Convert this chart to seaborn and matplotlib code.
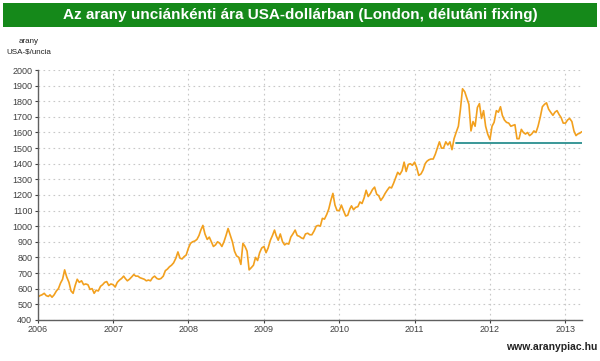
import matplotlib
matplotlib.use("Agg")
import matplotlib.pyplot as plt
import matplotlib.dates as mdates
from matplotlib.patches import Rectangle
import pandas as pd
import seaborn as sns

# approx. London PM fix (USD / troy ounce),
# three readings per month (around the 1st, 11th and 21st)
months = pd.period_range("2006-01", "2013-03", freq="M")
days = [1, 11, 21]
prices = [
    # 2006
    545, 555, 560,  570, 555, 550,  560, 545, 560,  585, 600, 635,
    660, 720, 675,  640, 585, 570,  620, 660, 640,  650, 625, 630,
    625, 595, 600,  570, 590, 585,  615, 625, 640,  645, 620, 630,
    # 2007
    625, 610, 640,  655, 665, 680,  665, 650, 660,  675, 690, 680,
    680, 670, 665,  660, 650, 655,  650, 670, 680,  665, 660, 665,
    680, 715, 725,  740, 750, 765,  795, 835, 795,  790, 805, 815,
    # 2008
    860, 890, 900,  905, 915, 940,  975, 1005, 950,  915, 930, 900,
    870, 880, 900,  890, 870, 900,  940, 985, 945,  900, 840, 810,
    800, 755, 890,  870, 840, 720,  735, 750, 800,  780, 830, 860,
    # 2009
    870, 830, 860,  910, 940, 975,  940, 910, 950,  900, 880, 890,
    885, 930, 950,  975, 940, 935,  925, 920, 950,  955, 945, 945,
    970, 1000, 1005,  1000, 1050, 1045,  1075, 1110, 1165,  1210, 1135, 1100,
    # 2010
    1100, 1135, 1100,  1065, 1070, 1110,  1130, 1105, 1120,  1125, 1155, 1145,
    1180, 1230, 1190,  1210, 1235, 1250,  1205, 1195, 1165,  1185, 1210, 1230,
    1250, 1245, 1275,  1310, 1345, 1330,  1355, 1410, 1350,  1395, 1400, 1390,
    # 2011
    1410, 1375, 1325,  1335, 1360, 1400,  1415, 1425, 1430,  1430, 1460, 1500,
    1540, 1500, 1500,  1540, 1520, 1540,  1490, 1560, 1600,  1640, 1750, 1880,
    1860, 1820, 1780,  1610, 1670, 1640,  1760, 1785, 1690,  1740, 1640, 1590,
    # 2012
    1555, 1640, 1665,  1740, 1730, 1765,  1710, 1680, 1665,  1660, 1640, 1645,
    1650, 1560, 1560,  1620, 1600, 1590,  1600, 1580, 1590,  1610, 1600, 1640,
    1700, 1765, 1780,  1790, 1750, 1730,  1710, 1730, 1740,  1715, 1695, 1660,
    # 2013
    1660, 1680, 1690,  1670, 1610, 1580,  1590, 1595, 1605,
]

support_start, support_end, support_level = "2011-07-20", "2013-03-22", 1535

dates = [m.to_timestamp() + pd.Timedelta(days=d - 1) for m in months for d in days]
df = pd.DataFrame({"date": dates, "price": prices})

sns.set_theme(style="white")
plt.rcParams["font.family"] = ["Liberation Sans", "DejaVu Sans"]

fig = plt.figure(figsize=(6.0, 3.61), dpi=100)
fig.patch.set_facecolor("white")
ax = fig.add_axes([0.063, 0.114, 0.907, 0.692])

sns.lineplot(data=df, x="date", y="price", ax=ax, color="#f2a01e", linewidth=1.2)
ax.plot(pd.to_datetime([support_start, support_end]), [support_level, support_level],
        color="#2a8f8f", linewidth=1.3)

ax.set_ylim(400, 2000)
ax.set_xlim(pd.Timestamp("2006-01-01"), pd.Timestamp("2013-03-22"))
ax.set_yticks(range(400, 2001, 100))
ax.xaxis.set_major_locator(mdates.YearLocator())
ax.xaxis.set_major_formatter(mdates.DateFormatter("%Y"))
ax.set_xlabel("")
ax.set_ylabel("")

ax.grid(True, color="#c8c8c8", linestyle=(0, (1.5, 3)), linewidth=0.8)
for side in ["top", "right"]:
    ax.spines[side].set_visible(False)
for side in ["left", "bottom"]:
    ax.spines[side].set_color("#606060")
    ax.spines[side].set_linewidth(1.0)
ax.tick_params(axis="both", labelsize=6.5, colors="#404040", length=2, width=0.8,
               direction="out", pad=2, left=True, bottom=True)

# title banner
fig.patches.append(Rectangle((0.005, 0.925), 0.99, 0.067, transform=fig.transFigure,
                             facecolor="#15891a", edgecolor="none"))
fig.text(0.5, 0.958, "Az arany unciánkénti ára USA-dollárban (London, délutáni fixing)",
         ha="center", va="center", color="white", fontsize=11, fontweight="bold")

fig.text(0.048, 0.885, "arany", ha="center", va="center", fontsize=5.8, color="#222222")
fig.text(0.048, 0.855, "USA-$/uncia", ha="center", va="center", fontsize=5.8, color="#222222")
fig.text(0.995, 0.04, "www.aranypiac.hu", ha="right", va="center", fontsize=7.5,
         fontweight="bold", color="#222222")

fig.savefig("out.png", dpi=100)
